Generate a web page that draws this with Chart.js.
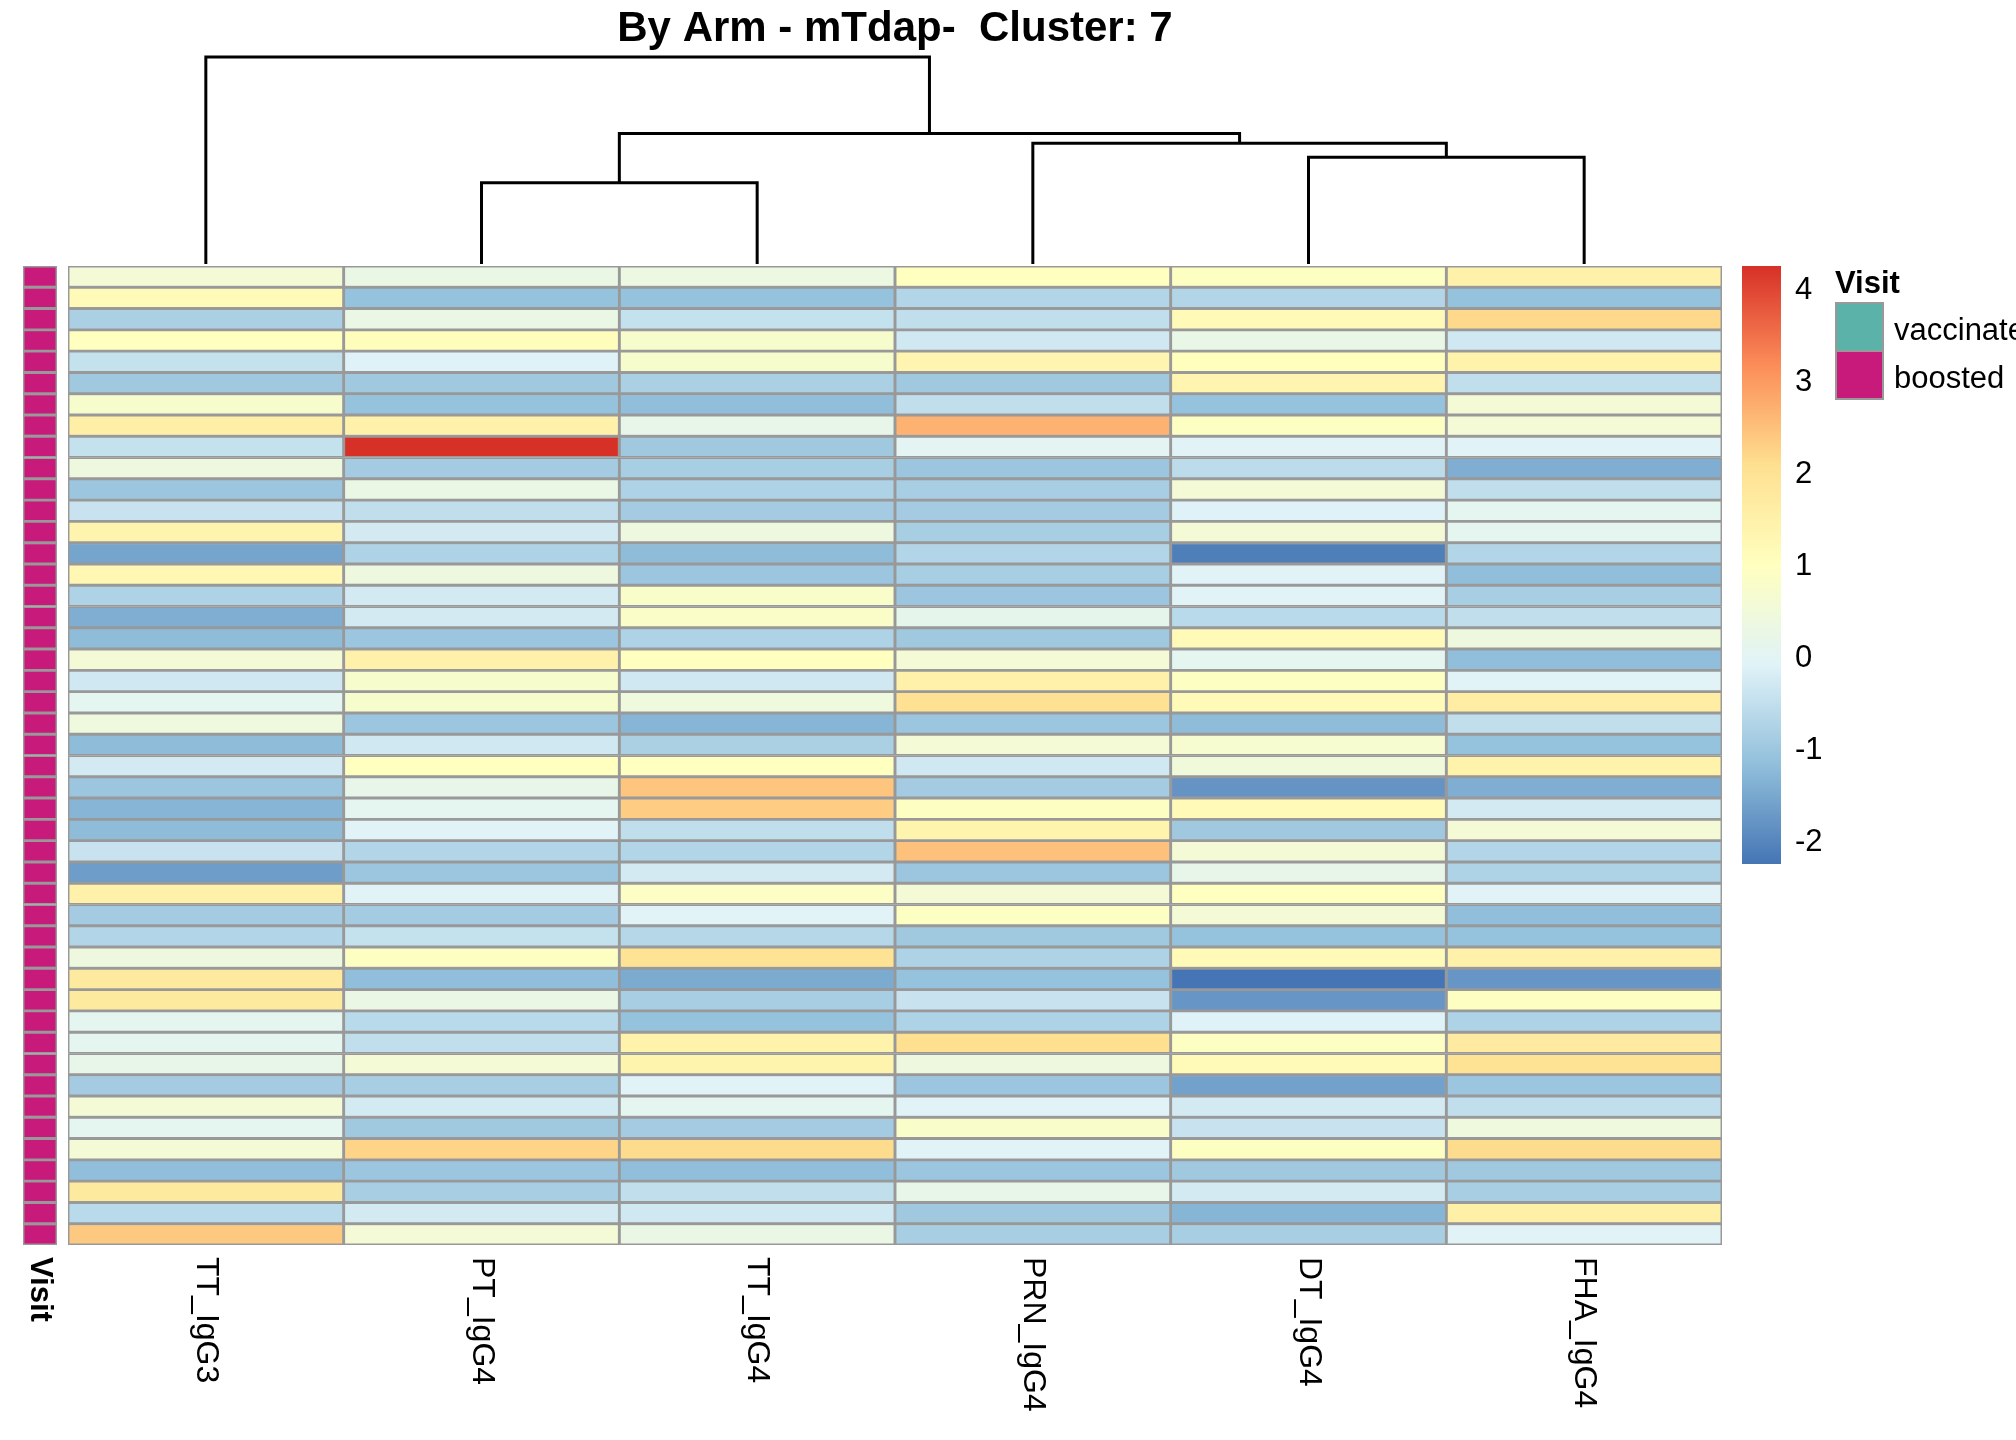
<!DOCTYPE html>
<html>
<head>
<meta charset="utf-8">
<title>By Arm - mTdap- Cluster: 7</title>
<script src="https://cdn.jsdelivr.net/npm/chart.js@4"></script>
<style>
  html, body { margin: 0; padding: 0; background: #fff; }
  #page { position: relative; width: 2016px; height: 1440px; overflow: hidden; font-family: "Liberation Sans", Arial, sans-serif; }
  #page canvas { position: absolute; left: 0; top: 0; }
  .lg { position: absolute; font-size: 31px; line-height: 31px; color: #000; white-space: nowrap; }
  .key { position: absolute; box-sizing: border-box; border: 2px solid #999999; }
</style>
</head>
<body>
<div id="page">
  <canvas id="dendro" width="2016" height="1440"></canvas>
  <canvas id="heat" width="2016" height="1440"></canvas>
  <canvas id="annot" width="2016" height="1440"></canvas>
  <canvas id="bar" width="2016" height="1440"></canvas>
  <div class="lg" style="left:1835px; top:267px; font-weight:bold;">Visit</div>
  <div class="key" style="left:1835px; top:302px; width:49px; height:50px; background:#5BB2A8;"></div>
  <div class="key" style="left:1835px; top:350px; width:49px; height:50px; background:#C71A7A;"></div>
  <div class="lg" style="left:1894px; top:314px;">vaccinated</div>
  <div class="lg" style="left:1894px; top:362px;">boosted</div>
</div>
<script>
// --- data (rows top to bottom) ---
const columns = ['TT_IgG3', 'PT_IgG4', 'TT_IgG4', 'PRN_IgG4', 'DT_IgG4', 'FHA_IgG4'];

const TT_IgG3 = [0.6, 1.2, -0.8, 1.0, -0.45, -0.95, 0.75, 1.6, -0.45, 0.4, -1.0, -0.4, 1.4, -1.55, 1.3, -0.75,
  -1.4, -1.2, 0.6, -0.3, 0.1, 0.45, -1.2, -0.25, -1.0, -1.3, -1.2, -0.4, -1.65, 1.5, -0.9, -0.7,
  0.4, 1.75, 1.75, 0.1, 0.1, 0.2, -0.9, 0.6, 0.1, 0.6, -1.15, 1.75, -0.6, 2.4];
const PT_IgG4 = [0.3, -1.1, 0.3, 1.1, -0.1, -0.95, -1.1, 1.5, 4.27, -0.9, 0.3, -0.5, -0.25, -0.75, 0.4, -0.25,
  -0.25, -1.0, 1.5, 0.75, 0.75, -1.0, -0.3, 1.0, 0.2, 0.1, -0.05, -0.7, -1.0, -0.05, -0.9, -0.45,
  0.95, -1.15, 0.3, -0.6, -0.5, 0.6, -0.85, -0.25, -0.95, 2.25, -1.0, -0.85, -0.25, 0.6];
const TT_IgG4 = [0.35, -1.1, -0.45, 0.75, 0.75, -0.8, -1.15, 0.2, -0.95, -0.85, -0.75, -0.9, 0.4, -1.2, -1.0, 0.8,
  0.85, -0.75, 1.0, -0.3, 0.45, -1.3, -0.8, 1.0, 2.45, 2.35, -0.5, -0.7, -0.25, 0.9, -0.05, -0.65,
  2.0, -1.45, -0.85, -1.1, 1.45, 1.4, -0.05, 0.1, -0.9, 2.15, -1.15, -0.5, -0.3, 0.3];
const PRN_IgG4 = [1.0, -0.7, -0.5, -0.3, 1.35, -0.95, -0.5, 2.7, 0.05, -1.0, -0.85, -0.9, -0.85, -0.7, -0.85, -1.0,
  0.15, -0.95, 0.6, 1.5, 2.05, -1.0, 0.6, -0.3, -0.9, 0.95, 1.4, 2.5, -1.0, 0.6, 0.95, -0.95,
  -0.75, -1.1, -0.4, -0.75, 2.1, 0.4, -1.0, -0.05, 0.8, -0.05, -1.0, 0.2, -0.95, -0.85];
const DT_IgG4 = [0.95, -0.7, 1.2, 0.25, 1.05, 1.35, -1.1, 0.95, -0.05, -0.55, 0.6, -0.1, 0.6, -2.1, -0.05, -0.05,
  -0.6, 1.2, 0.1, 0.95, 1.2, -1.2, 0.7, 0.5, -1.8, 1.2, -0.95, 0.6, 0.2, 1.0, 0.6, -1.1,
  1.2, -2.24, -1.75, -0.1, 0.95, 1.2, -1.6, -0.25, -0.4, 0.95, -0.95, -0.25, -1.3, -0.85];
const FHA_IgG4 = [1.5, -1.1, 2.2, -0.3, 1.45, -0.5, 0.6, 0.6, -0.05, -1.4, -0.5, 0.1, 0.1, -0.7, -1.15, -0.85,
  -0.5, 0.4, -1.15, -0.05, 1.65, -0.5, -1.1, 1.45, -1.4, -0.25, 0.6, -0.7, -0.75, -0.05, -1.15, -1.1,
  1.5, -1.75, 0.95, -0.75, 1.7, 2.0, -1.0, -0.5, 0.45, 2.15, -0.95, -0.85, 1.55, -0.05];
const values = [TT_IgG3, PT_IgG4, TT_IgG4, PRN_IgG4, DT_IgG4, FHA_IgG4];

// row annotation
const visit = ['boosted', 'boosted', 'boosted', 'boosted', 'boosted', 'boosted', 'boosted', 'boosted',
  'boosted', 'boosted', 'boosted', 'boosted', 'boosted', 'boosted', 'boosted', 'boosted',
  'boosted', 'boosted', 'boosted', 'boosted', 'boosted', 'boosted', 'boosted', 'boosted',
  'boosted', 'boosted', 'boosted', 'boosted', 'boosted', 'boosted', 'boosted', 'boosted',
  'boosted', 'boosted', 'boosted', 'boosted', 'boosted', 'boosted', 'boosted', 'boosted',
  'boosted', 'boosted', 'boosted', 'boosted', 'boosted', 'boosted'];
const visitColors = { vaccinated: '#5BB2A8', boosted: '#C71A7A' };
const rowIds = TT_IgG3.map((_, i) => 'S' + (i + 1));

// column dendrogram (hclust style: negative = leaf, positive = earlier merge)
const mergeA = [-2, -5, -4, 1, -1];
const mergeB = [-3, -6, 2, 3, 4];
const mergeHeight = [3.92, 5.16, 5.83, 6.30, 10.0];

// colour key
const colorMin = -2.24;
const colorMax = 4.27;
const colorTicks = [-2, -1, 0, 1, 2, 3, 4];
const palette = ['#4575B4', '#91BFDB', '#E0F3F8', '#FFFFBF', '#FEE090', '#FC8D59', '#D73027'];

const FONT = '"Liberation Sans", Arial, sans-serif';
const GRID = '#999999';

function hexRgb(h) {
    return [parseInt(h.slice(1, 3), 16), parseInt(h.slice(3, 5), 16), parseInt(h.slice(5, 7), 16)];
}

function colorFor(v) {
    let t = (v - colorMin) / (colorMax - colorMin) * (palette.length - 1);
    t = Math.max(0, Math.min(palette.length - 1, t));
    const i = Math.min(Math.floor(t), palette.length - 2);
    const f = t - i;
    const a = hexRgb(palette[i]), b = hexRgb(palette[i + 1]);
    const c = a.map((x, k) => Math.round(x + (b[k] - x) * f));
    return `rgb(${c[0]}, ${c[1]}, ${c[2]})`;
}

// box of the heatmap body on the page
const box = { left: 68, top: 266, right: 1722, bottom: 1245 };
const W = 2016, H = 1440;

const hidden = { display: false };
const quiet = { legend: hidden, tooltip: { enabled: false } };

// rotated labels under the columns
const colLabels = {
    id: 'colLabels',
    afterDraw(chart) {
        const { ctx, chartArea, scales } = chart;
        ctx.save();
        ctx.font = '32px ' + FONT;
        ctx.fillStyle = '#000';
        ctx.textAlign = 'left';
        ctx.textBaseline = 'middle';
        columns.forEach((name, c) => {
            ctx.save();
            ctx.translate(scales.x.getPixelForValue(c + 0.5), chartArea.bottom + 12);
            ctx.rotate(Math.PI / 2);
            ctx.fillText(name, 0, 0);
            ctx.restore();
        });
        ctx.restore();
    }
};

new Chart(document.getElementById('heat'), {
    type: 'bar',
    data: {
        labels: rowIds,
        datasets: columns.map((name, c) => ({
            label: name,
            data: rowIds.map(() => [c, c + 1]),
            backgroundColor: values[c].map(colorFor),
            borderColor: GRID,
            borderWidth: 1.8,
            borderSkipped: false,
            grouped: false,
            barPercentage: 1,
            categoryPercentage: 1
        }))
    },
    options: {
        indexAxis: 'y',
        responsive: false,
        animation: false,
        layout: { padding: { left: box.left, top: box.top, right: W - box.right, bottom: H - box.bottom } },
        scales: {
            x: { type: 'linear', min: 0, max: columns.length, display: false },
            y: { type: 'category', display: false }
        },
        plugins: quiet
    },
    plugins: [colLabels]
});

// --- annotation column ---
const visitLabel = {
    id: 'visitLabel',
    afterDraw(chart) {
        const { ctx, chartArea } = chart;
        ctx.save();
        ctx.font = 'bold 31px ' + FONT;
        ctx.fillStyle = '#000';
        ctx.textAlign = 'left';
        ctx.textBaseline = 'middle';
        ctx.translate((chartArea.left + chartArea.right) / 2, chartArea.bottom + 12);
        ctx.rotate(Math.PI / 2);
        ctx.fillText('Visit', 0, 0);
        ctx.restore();
    }
};

new Chart(document.getElementById('annot'), {
    type: 'bar',
    data: {
        labels: rowIds,
        datasets: [{
            label: 'Visit',
            data: rowIds.map(() => [0, 1]),
            backgroundColor: visit.map(v => visitColors[v]),
            borderColor: GRID,
            borderWidth: 1.8,
            borderSkipped: false,
            barPercentage: 1,
            categoryPercentage: 1
        }]
    },
    options: {
        indexAxis: 'y',
        responsive: false,
        animation: false,
        layout: { padding: { left: 23, top: box.top, right: W - 57, bottom: H - box.bottom } },
        scales: {
            x: { type: 'linear', min: 0, max: 1, display: false },
            y: { type: 'category', display: false }
        },
        plugins: quiet
    },
    plugins: [visitLabel]
});

// --- dendrogram over the columns ---
const nodes = [];
function nodeAt(id) {
    return id < 0 ? { x: -id - 0.5, y: 0 } : nodes[id - 1];
}
const dendroSets = mergeHeight.map((h, m) => {
    const a = nodeAt(mergeA[m]), b = nodeAt(mergeB[m]);
    nodes.push({ x: (a.x + b.x) / 2, y: h });
    return {
        data: [{ x: a.x, y: a.y }, { x: a.x, y: h }, { x: b.x, y: h }, { x: b.x, y: b.y }],
        borderColor: '#000',
        borderWidth: 3,
        pointRadius: 0,
        tension: 0,
        fill: false,
        clip: false
    };
});

new Chart(document.getElementById('dendro'), {
    type: 'line',
    data: { datasets: dendroSets },
    options: {
        responsive: false,
        animation: false,
        layout: { padding: { left: box.left, top: 0, right: W - box.right, bottom: H - 264 } },
        scales: {
            x: { type: 'linear', min: 0, max: columns.length, display: false },
            y: { type: 'linear', min: 0, max: 10, display: false }
        },
        plugins: {
            legend: hidden,
            tooltip: { enabled: false },
            title: {
                display: true,
                text: 'By Arm - mTdap-  Cluster: 7',
                color: '#000',
                font: { family: FONT, size: 42, weight: 'bold', lineHeight: 1.2 },
                padding: { top: 4, bottom: 2.6 }
            }
        }
    }
});

// --- colour key ---
new Chart(document.getElementById('bar'), {
    type: 'bar',
    data: {
        labels: ['key'],
        datasets: [{
            data: [[colorMin, colorMax]],
            backgroundColor(ctx) {
                const area = ctx.chart.chartArea;
                if (!area) return palette[3];
                const g = ctx.chart.ctx.createLinearGradient(0, area.bottom, 0, area.top);
                palette.forEach((col, i) => g.addColorStop(i / (palette.length - 1), col));
                return g;
            },
            borderWidth: 0,
            barPercentage: 1,
            categoryPercentage: 1
        }]
    },
    options: {
        responsive: false,
        animation: false,
        layout: { padding: { left: 1742, top: box.top, right: W - 1781 - 81, bottom: H - 864 } },
        scales: {
            x: { display: false },
            y: {
                type: 'linear',
                position: 'right',
                min: colorMin,
                max: colorMax,
                grid: { display: false, drawTicks: false },
                border: { display: false },
                afterBuildTicks(scale) { scale.ticks = colorTicks.map(v => ({ value: v })); },
                afterFit(scale) { scale.width = 81; },
                ticks: {
                    color: '#000',
                    padding: 14,
                    font: { family: FONT, size: 31 },
                    callback: v => String(v)
                }
            }
        },
        plugins: quiet
    }
});
</script>
</body>
</html>
